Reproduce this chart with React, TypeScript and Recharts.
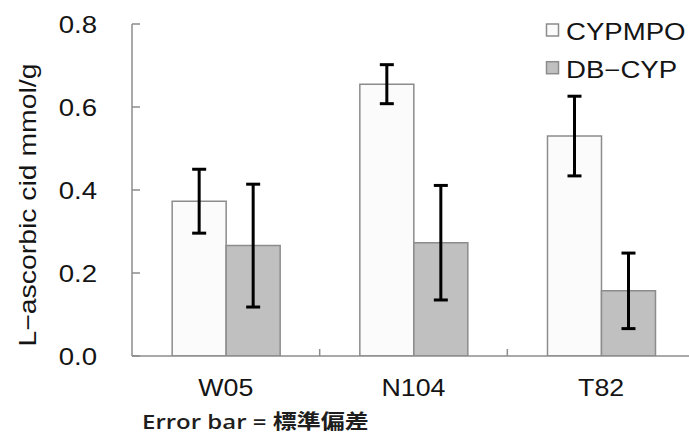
import React from 'react';
import { BarChart, Bar, XAxis, YAxis, ErrorBar, Legend } from 'recharts';

// Strains and L-ascorbic acid content (mmol/g), mean and standard deviation
const strains = ['W05', 'N104', 'T82'];
const cypmpoMean = [0.373, 0.655, 0.53];
const cypmpoSd = [0.077, 0.047, 0.096];
const dbcypMean = [0.266, 0.273, 0.157];
const dbcypSd = [0.148, 0.138, 0.091];
const yTicks = [0, 0.2, 0.4, 0.6, 0.8];

const seriesNames = { cypmpo: 'CYPMPO', dbcyp: 'DB−CYP' };
const yTitle = 'L−ascorbic cid mmol/g';
const footnote = 'Error bar = 標準偏差';

const rows = strains.map((strain, i) => ({
  strain,
  cypmpo: cypmpoMean[i],
  cypmpoSd: cypmpoSd[i],
  dbcyp: dbcypMean[i],
  dbcypSd: dbcypSd[i],
}));

const AXIS = '#8c8c8c';
const INK = '#141414';
const SANS = "'Liberation Sans', Arial, sans-serif";
const SX = 1.2; // glyphs are drawn slightly widened
const FILL_A = '#fbfbfb';
const FILL_B = '#c0c0c0';
const X_LABEL_GAP = 40; // distance from the x axis line to the label baseline
const Y_LABEL_GAP = 35; // distance from the y axis line to the label's right edge
const EDGE_TICK = 7; // inward tick marking the boundary between categories
const Y_TICK = 8; // inward tick length on the value axis

// Value label plus the short inward tick mark
function YTick(props: any) {
  const { x, y, payload } = props;
  const axisX = x + Y_LABEL_GAP;
  return (
    <g>
      <line x1={axisX} x2={axisX + Y_TICK} y1={y} y2={y} stroke={AXIS} strokeWidth={1.5} />
      <text
        transform={`translate(${x},${y}) scale(${SX},1)`}
        textAnchor="end"
        dy={8.5}
        fontFamily={SANS}
        fontSize={23}
        fill={INK}
      >
        {Number(payload.value).toFixed(1)}
      </text>
    </g>
  );
}

// Category label plus the small upward tick on the boundary to its right
function XTick(props: any) {
  const { x, y, payload, index, visibleTicksCount, width } = props;
  const band = width / visibleTicksCount;
  const axisY = y - X_LABEL_GAP;
  const edgeX = x + band / 2;
  const last = index === visibleTicksCount - 1;
  return (
    <g>
      {!last && (
        <line
          x1={edgeX}
          x2={edgeX}
          y1={axisY}
          y2={axisY - EDGE_TICK}
          stroke={AXIS}
          strokeWidth={1.5}
        />
      )}
      <text
        transform={`translate(${x},${y}) scale(1.14,1)`}
        textAnchor="middle"
        fontFamily={SANS}
        fontSize={23.5}
        fill={INK}
      >
        {payload.value}
      </text>
    </g>
  );
}

function YTitle(props: any) {
  const vb = props.viewBox || { x: 0, y: 0, width: 0, height: 0 };
  const cx = vb.x + 27;
  const cy = vb.y + vb.height / 2 + 15;
  return (
    <text
      transform={`translate(${cx},${cy}) rotate(-90)`}
      textAnchor="middle"
      dominantBaseline="central"
      fontFamily={SANS}
      fontSize={24}
      fill={INK}
      textLength={283}
      lengthAdjust="spacingAndGlyphs"
    >
      {yTitle}
    </text>
  );
}

function LegendBox(props: any) {
  const items = props.payload || [];
  return (
    <svg width={150} height={90} style={{ display: 'block' }}>
      {items.map((it: any, i: number) => {
        const top = 24 + i * 37.7;
        return (
          <g key={it.value}>
            <rect
              x={6.5}
              y={top}
              width={12}
              height={12}
              fill={it.payload?.fill ?? it.color}
              stroke={AXIS}
              strokeWidth={1.5}
            />
            <text
              transform={`translate(26,${top + 16}) scale(${SX},1)`}
              fontFamily={SANS}
              fontSize={23}
              fill={INK}
            >
              {it.value}
            </text>
          </g>
        );
      })}
    </svg>
  );
}

export default function App() {
  return (
    <div
      style={{
        position: 'absolute',
        left: 0,
        top: 0,
        width: 689,
        height: 434,
        overflow: 'hidden',
        background: '#ffffff',
      }}
    >
      <BarChart
        width={700}
        height={434}
        data={rows}
        margin={{ top: 24, right: 5, bottom: 38, left: 0 }}
        barCategoryGap="21.4%"
        barGap={0}
      >
        <XAxis
          dataKey="strain"
          height={40}
          axisLine={{ stroke: AXIS, strokeWidth: 1.5 }}
          tickLine={false}
          tickSize={0}
          tickMargin={X_LABEL_GAP}
          tick={<XTick />}
          interval={0}
        />
        <YAxis
          width={132}
          domain={[0, 0.8]}
          ticks={yTicks}
          allowDataOverflow
          axisLine={{ stroke: AXIS, strokeWidth: 1.5 }}
          tickLine={false}
          tickSize={0}
          tickMargin={Y_LABEL_GAP}
          tick={<YTick />}
          label={<YTitle />}
        />
        {/* vertical + center + middle keeps the legend from taking plot space */}
        <Legend
          layout="vertical"
          verticalAlign="middle"
          align="center"
          wrapperStyle={{ top: 0, left: 540, width: 150, height: 90 }}
          content={<LegendBox />}
        />
        <Bar
          dataKey="cypmpo"
          name={seriesNames.cypmpo}
          fill={FILL_A}
          stroke={AXIS}
          strokeWidth={1.5}
          isAnimationActive={false}
        >
          <ErrorBar dataKey="cypmpoSd" width={7} stroke="#000" strokeWidth={3} />
        </Bar>
        <Bar
          dataKey="dbcyp"
          name={seriesNames.dbcyp}
          fill={FILL_B}
          stroke={AXIS}
          strokeWidth={1.5}
          isAnimationActive={false}
        >
          <ErrorBar dataKey="dbcypSd" width={7} stroke="#000" strokeWidth={3} />
        </Bar>
      </BarChart>
      <svg
        width={689}
        height={434}
        style={{ position: 'absolute', left: 0, top: 0, pointerEvents: 'none' }}
      >
        <text
          transform="translate(142,429) scale(1.2,1)"
          fontFamily="'Open Sans', 'Noto Sans CJK JP', sans-serif"
          fontWeight={600}
          fontSize={20}
          fill="#1e1e1e"
        >
          {footnote}
        </text>
      </svg>
    </div>
  );
}
